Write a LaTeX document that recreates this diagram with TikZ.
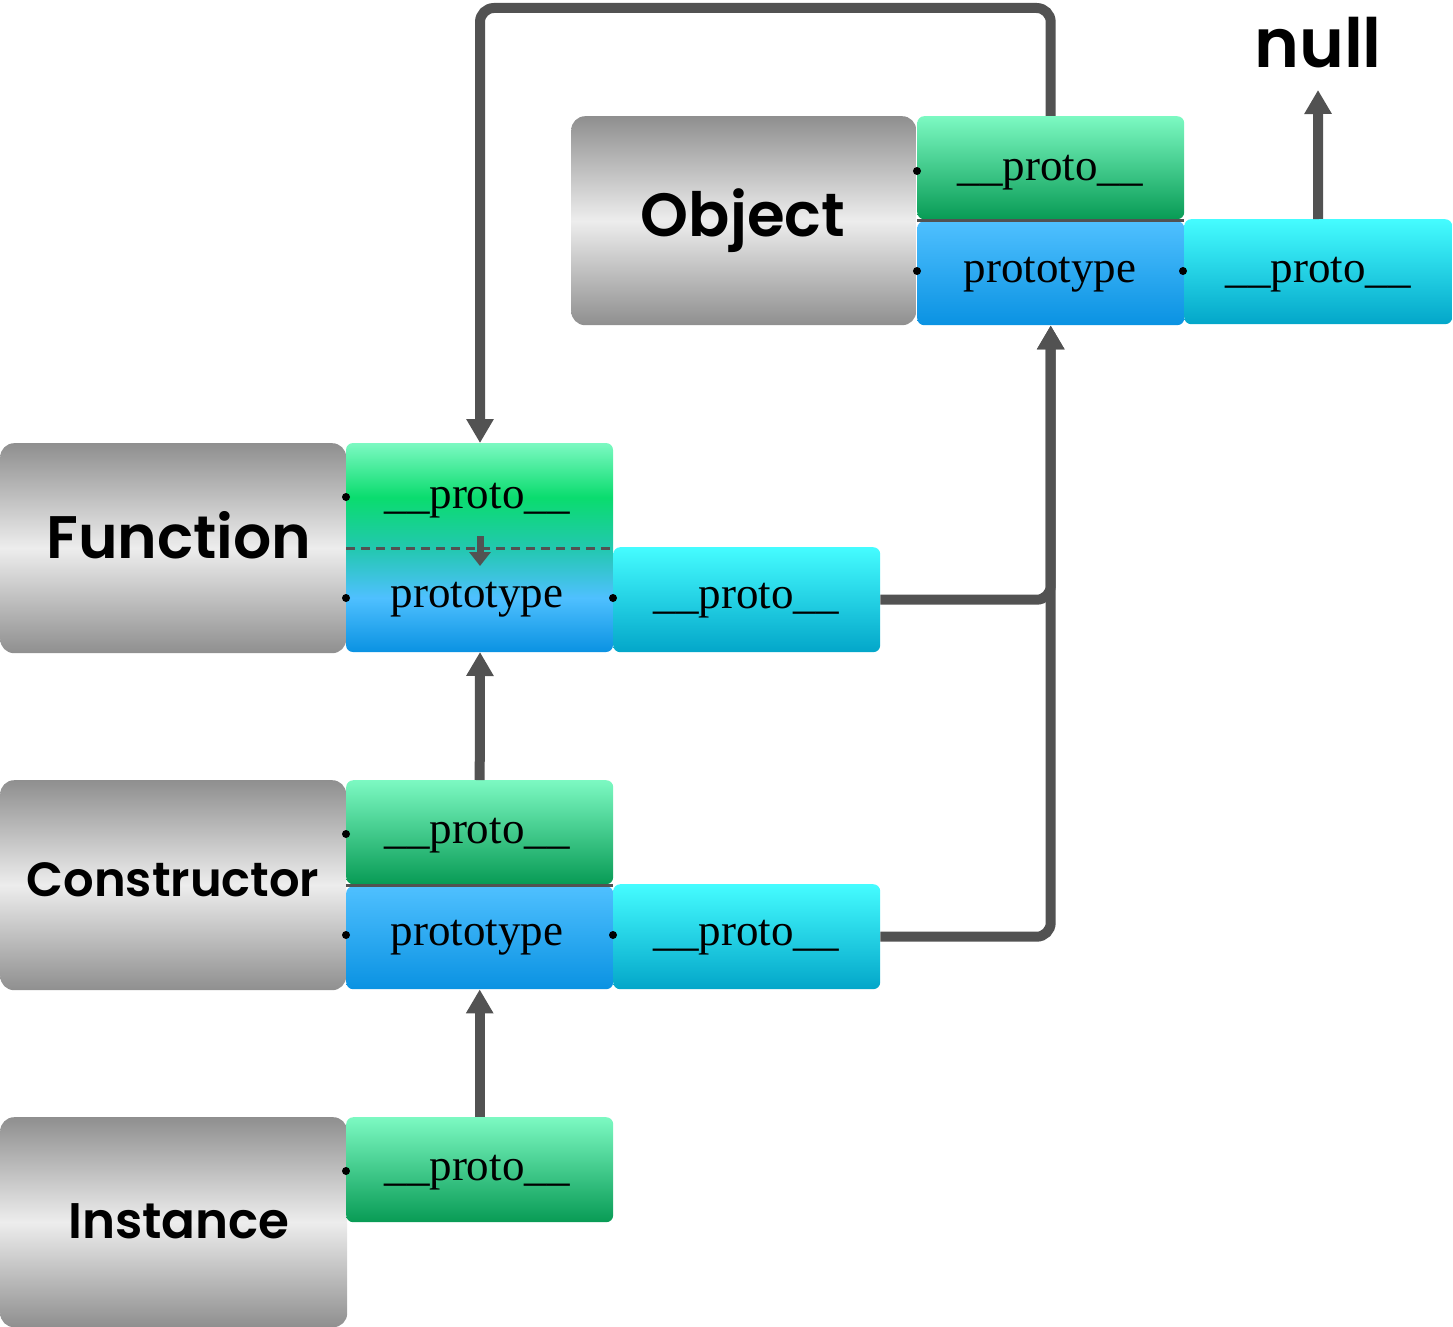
\documentclass[tikz,border=0pt]{standalone}
\usepackage{fontspec}
\setmainfont{Liberation Serif}
\IfFontExistsTF{Poppins SemiBold}
  {\newfontfamily\labelfont{Poppins SemiBold}\newcommand\labelweight{}}
  {\newfontfamily\labelfont{Poppins}\newcommand\labelweight{\bfseries}}
\usetikzlibrary{arrows.meta}

\definecolor{grayedge}{HTML}{8F8F8F}
\definecolor{graylight}{HTML}{EDEDED}
\definecolor{greentop}{HTML}{7CF9C2}
\definecolor{greenbot}{HTML}{089B55}
\definecolor{greenbright}{HTML}{0ADC6E}
\definecolor{tealmid}{HTML}{22C8AE}
\definecolor{bluetop}{HTML}{4FC0FF}
\definecolor{bluebot}{HTML}{0A92E2}
\definecolor{cyantop}{HTML}{45FCFF}
\definecolor{cyanbot}{HTML}{03A6C9}
\definecolor{linkgray}{HTML}{525252}

% green-to-blue slot used by Function (its __proto__ is its own prototype)
\pgfdeclareverticalshading{fnslotshade}{100bp}{%
  color(0bp)=(bluebot); color(25bp)=(bluebot);
  color(38bp)=(bluetop); color(50bp)=(tealmid);
  color(62bp)=(greenbright); color(75bp)=(greentop);
  color(100bp)=(greentop)}

\tikzset{
  x=1pt, y=-1pt,
  graybox/.style={rectangle, rounded corners=14pt, anchor=north west,
    top color=grayedge, bottom color=grayedge, middle color=graylight,
    inner sep=0pt},
  boxlabel/.style={inner sep=0pt, font=\labelfont\labelweight\fontsize{#1}{#1}\selectfont},
  slot/.style={rectangle, rounded corners=7pt, anchor=north west,
    minimum width=267pt, inner sep=0pt},
  greenslot/.style={slot, top color=greentop, bottom color=greenbot},
  blueslot/.style={slot, top color=bluetop, bottom color=bluebot},
  cyanslot/.style={slot, top color=cyantop, bottom color=cyanbot},
  slottext/.style={inner sep=0pt, font=\fontsize{45}{50}\selectfont},
  conn/.style={draw=linkgray, line width=10pt, rounded corners=14pt,
    -{Triangle[width=26pt,length=24pt]}},
  seam/.style={draw=linkgray, line width=2.5pt},
  pin/.style={fill=black, circle, inner sep=0pt, minimum size=8pt},
}

\begin{document}
\begin{tikzpicture}
\useasboundingbox (0,0) rectangle (1453,1327);

% ---- Object ----
\node[graybox, minimum width=345pt, minimum height=209pt] (obj) at (571,116) {};
\node[boxlabel=61, anchor=base] (objlbl) at (743,236) {Object};
\node[greenslot, minimum height=103pt] (objproto) at (917,116) {};
\node[slottext, anchor=base] (objprotolbl) at (1050,180) {\_\_proto\_\_};
\node[blueslot, minimum height=104pt] (objprototype) at (917,221) {};
\node[slottext, anchor=base] (objprototypelbl) at (1050,282) {prototype};
\node[cyanslot, minimum width=268pt, minimum height=105pt] (objpp) at (1184,219) {};
\node[slottext, anchor=base] (objpplbl) at (1318,282) {\_\_proto\_\_};
\draw[seam] ([yshift=-1pt]objproto.south west) -- ([yshift=-1pt]objproto.south east);
\node[boxlabel=68, anchor=base] (null) at (1318,68) {null};
\coordinate (nulltip) at (1318,90);

% ---- Function ----
\node[graybox, minimum width=346pt, minimum height=210pt] (fn) at (0,443) {};
\node[boxlabel=60, anchor=base] (fnlbl) at (179,558) {Function};
\path[shading=fnslotshade, rounded corners=7pt] (346,443) rectangle (613,652);
\coordinate (fnslotN) at (480,443);
\coordinate (fnslotS) at (480,652);
\coordinate (fnslotW) at (346,548);
\coordinate (fnslotE) at (613,548);
\node[slottext, anchor=base] (fnproto) at (477,508) {\_\_proto\_\_};
\node[slottext, anchor=base] (fnprototype) at (477,607) {prototype};
\node[cyanslot, minimum height=105pt] (fnpp) at (613,547) {};
\node[slottext, anchor=base] (fnpplbl) at (746,608) {\_\_proto\_\_};
\draw[draw=linkgray, line width=3pt, dash pattern=on 9pt off 6pt] (fnslotW) -- (fnslotE);
\coordinate (selfA) at (480,536);
\coordinate (selfB) at (480,566);
\draw[draw=linkgray, line width=7pt, -{Triangle[width=21pt,length=14pt]}] (selfA) -- (selfB);

% ---- Constructor ----
\node[graybox, minimum width=346pt, minimum height=210pt] (ctor) at (0,780) {};
\node[boxlabel=48, anchor=base] (ctorlbl) at (173,896) {Constructor};
\node[greenslot, minimum height=104pt] (ctproto) at (346,780) {};
\node[slottext, anchor=base] (ctprotolbl) at (477,843) {\_\_proto\_\_};
\node[blueslot, minimum height=103pt] (ctprototype) at (346,886) {};
\node[slottext, anchor=base] (ctprototypelbl) at (477,945) {prototype};
\node[cyanslot, minimum height=105pt] (ctpp) at (613,884) {};
\node[slottext, anchor=base] (ctpplbl) at (746,945) {\_\_proto\_\_};
\draw[seam] ([yshift=-1pt]ctproto.south west) -- ([yshift=-1pt]ctproto.south east);

% ---- Instance ----
\node[graybox, minimum width=347pt, minimum height=210pt] (inst) at (0,1117) {};
\node[boxlabel=50, anchor=base] (instlbl) at (179,1238) {Instance};
\node[greenslot, minimum height=105pt] (inproto) at (346,1117) {};
\node[slottext, anchor=base] (inprotolbl) at (477,1180) {\_\_proto\_\_};

% ---- property pins ----
\foreach \p in {(917,171),(917,271),(1183,271),(346,497),(346,598),(613,598),
                (346,834),(346,935),(613,935),(346,1171)}
  \node[pin] at \p {};

% ---- prototype chain links ----
\draw[conn] (objproto.north) -- ++(0,-108) -| (fnslotN);
\draw[conn] (fnpp.east) -| (objprototype.south);
\draw[conn] (ctpp.east) -| (objprototype.south);
\draw[conn] (ctproto.north) -- (fnslotS);
\draw[conn] (inproto.north) -- (ctprototype.south);
\draw[conn] (objpp.north) -- (nulltip);

\end{tikzpicture}
\end{document}
